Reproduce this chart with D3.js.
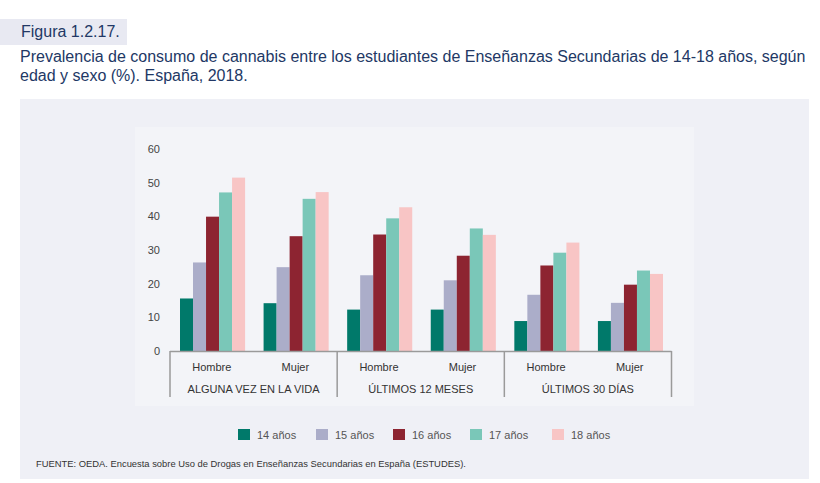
<!DOCTYPE html>
<meta charset="utf-8">
<style>
body { margin: 0; background: #fff; }
svg { font-family: "Liberation Sans", Arial, sans-serif; }
.title { fill: #223865; }
.tick-label { fill: #444; font-size: 11px; }
.cat-label { fill: #333; font-size: 11px; }
.legend text { fill: #555; font-size: 11px; }
.source { fill: #333; font-size: 9.4px; }
</style>
<body>
<script src="https://d3js.org/d3.v7.min.js"></script>
<script>

var width = 820,
    height = 483;

// data
var periods = ["ALGUNA VEZ EN LA VIDA", "ÚLTIMOS 12 MESES", "ÚLTIMOS 30 DÍAS"];
var sexes = ["Hombre", "Mujer"];
var ages = ["14 años", "15 años", "16 años", "17 años", "18 años"];
var colors = ["#00796a", "#abadc9", "#8d2431", "#7ac7b8", "#f8c5c5"];

// one row per period+sex, values by age 14..18
var vidaHombre = [15.6, 26.3, 39.9, 47.1, 51.5];
var vidaMujer  = [14.2, 24.9, 34.1, 45.2, 47.2];
var mesesHombre = [12.3, 22.5, 34.6, 39.4, 42.7];
var mesesMujer  = [12.3, 21.0, 28.3, 36.4, 34.5];
var diasHombre = [8.9, 16.7, 25.4, 29.2, 32.2];
var diasMujer  = [8.9, 14.3, 19.7, 23.9, 22.9];

var yTicks = [0, 10, 20, 30, 40, 50, 60];

var rows = [
  {period: periods[0], sex: sexes[0], values: vidaHombre},
  {period: periods[0], sex: sexes[1], values: vidaMujer},
  {period: periods[1], sex: sexes[0], values: mesesHombre},
  {period: periods[1], sex: sexes[1], values: mesesMujer},
  {period: periods[2], sex: sexes[0], values: diasHombre},
  {period: periods[2], sex: sexes[1], values: diasMujer}
];
rows.forEach(function(r, i) { r.key = i; });

var svg = d3.select("body").append("svg")
    .attr("width", width)
    .attr("height", height);

// header
svg.append("rect")
    .attr("x", 0).attr("y", 19)
    .attr("width", 127).attr("height", 26)
    .attr("fill", "#e8e9f2");

svg.append("text")
    .attr("class", "title")
    .attr("x", 21).attr("y", 37)
    .style("font-size", "16px")
    .text("Figura 1.2.17.");

svg.append("text")
    .attr("class", "title")
    .attr("x", 20).attr("y", 62)
    .style("font-size", "16px")
    .text("Prevalencia de consumo de cannabis entre los estudiantes de Enseñanzas Secundarias de 14-18 años, según");

svg.append("text")
    .attr("class", "title")
    .attr("x", 20).attr("y", 81)
    .style("font-size", "16px")
    .text("edad y sexo (%). España, 2018.");

// panels
svg.append("rect")
    .attr("x", 20).attr("y", 99)
    .attr("width", 789).attr("height", 380)
    .attr("fill", "#eff0f6");

svg.append("rect")
    .attr("x", 135).attr("y", 127)
    .attr("width", 559).attr("height", 279)
    .attr("fill", "#f3f4f8");

// scales
var x0 = d3.scaleBand()
    .domain(rows.map(function(d) { return d.key; }))
    .range([170, 671.5])
    .padding(0);

var x1 = d3.scaleBand()
    .domain(ages)
    .range([10, x0.bandwidth() - 8.5])
    .padding(0);

var y = d3.scaleLinear()
    .domain([0, 60])
    .range([351, 149]);

var color = d3.scaleOrdinal()
    .domain(ages)
    .range(colors);

// y axis labels (no line, no ticks)
var yAxis = svg.append("g")
    .attr("transform", "translate(160,0)")
    .call(d3.axisLeft(y).tickValues(yTicks).tickSize(0).tickPadding(0));
yAxis.select(".domain").remove();
yAxis.selectAll("text")
    .attr("class", "tick-label")
    .attr("font-family", null)
    .attr("font-size", null)
    .attr("fill", null);

// bars
var cells = svg.append("g")
  .selectAll("g")
  .data(rows)
  .enter().append("g")
    .attr("transform", function(d) { return "translate(" + x0(d.key) + ",0)"; });

cells.selectAll("rect")
  .data(function(d) { return d.values.map(function(v, i) { return {age: ages[i], value: v}; }); })
  .enter().append("rect")
    .attr("x", function(d) { return x1(d.age); })
    .attr("width", x1.bandwidth())
    .attr("y", function(d) { return y(d.value); })
    .attr("height", function(d) { return y(0) - y(d.value); })
    .attr("fill", function(d) { return color(d.age); });

// x axis: baseline + group separators
var axisColor = "#9a9a9a";
svg.append("line")
    .attr("x1", x0.range()[0]).attr("x2", x0.range()[1])
    .attr("y1", y(0) + 0.5).attr("y2", y(0) + 0.5)
    .attr("stroke", axisColor).attr("stroke-width", 1.5);

var sepX = periods.map(function(p) {
  return x0(rows.filter(function(r) { return r.period === p; })[0].key);
});
sepX.push(x0.range()[1]);

svg.append("g").selectAll("line")
  .data(sepX)
  .enter().append("line")
    .attr("x1", function(d) { return d; }).attr("x2", function(d) { return d; })
    .attr("y1", y(0)).attr("y2", 397)
    .attr("stroke", axisColor).attr("stroke-width", 1.5);

svg.append("g").selectAll("text")
  .data(rows)
  .enter().append("text")
    .attr("class", "cat-label")
    .attr("x", function(d) { return x0(d.key) + x0.bandwidth() / 2; })
    .attr("y", 371)
    .attr("text-anchor", "middle")
    .text(function(d) { return d.sex; });

svg.append("g").selectAll("text")
  .data(periods)
  .enter().append("text")
    .attr("class", "cat-label")
    .attr("x", function(d, i) { return (sepX[i] + sepX[i + 1]) / 2; })
    .attr("y", 393)
    .attr("text-anchor", "middle")
    .text(function(d) { return d; });

// legend
var legendX = [238, 316, 393, 470, 552];
var legend = svg.append("g")
    .attr("class", "legend")
  .selectAll("g")
  .data(ages)
  .enter().append("g")
    .attr("transform", function(d, i) { return "translate(" + legendX[i] + ",429)"; });

legend.append("rect")
    .attr("width", 12).attr("height", 11)
    .attr("fill", function(d) { return color(d); });

legend.append("text")
    .attr("x", 19).attr("y", 10)
    .text(function(d) { return d; });

// source
svg.append("text")
    .attr("class", "source")
    .attr("x", 36).attr("y", 467)
    .text("FUENTE: OEDA. Encuesta sobre Uso de Drogas en Enseñanzas Secundarias en España (ESTUDES).");

</script>
